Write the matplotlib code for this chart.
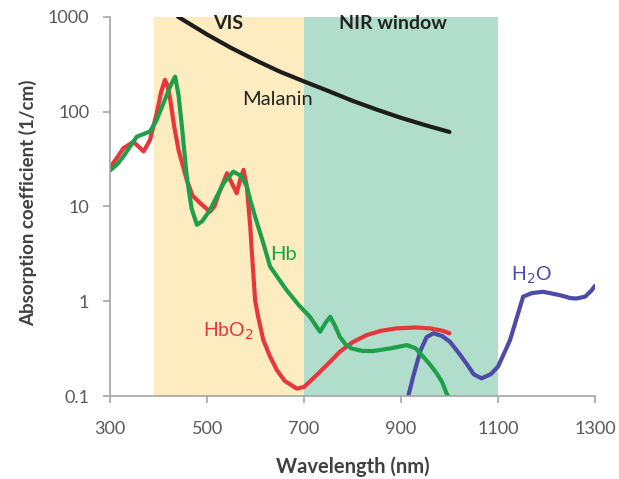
import matplotlib
matplotlib.use("Agg")
import matplotlib.pyplot as plt

plt.rcParams['font.family'] = ['Lato', 'DejaVu Sans']

# spectral bands (nm)
vis_band = [390, 700]
nir_band = [700, 1100]

# melanin
mel_wl = [440, 500, 550, 600, 650, 700, 750, 800, 850, 900, 950, 1000]
mel_mu = [1000, 650, 468, 348, 264, 208, 165, 130, 105, 86, 72, 61]

# HbO2
hbo2_wl = [300, 315, 327, 348, 358, 369, 382, 396, 405, 413, 418, 424, 432, 441, 458, 470,
           486, 506, 515, 525, 541, 550, 561, 568, 575, 582, 589, 592, 599, 605, 616, 630,
           644, 660, 685, 700, 726, 750, 774, 800, 829, 860, 891, 930, 960, 985, 1000]
hbo2_mu = [26, 33, 41, 48, 43, 38, 50, 96, 160, 216, 190, 133, 70, 39.5, 19, 13,
           10.8, 8.8, 10, 14, 22.4, 18, 13.8, 19, 24.3, 16.2, 6.1, 3.5, 1.03, 0.7, 0.39, 0.26,
           0.188, 0.145, 0.12, 0.125, 0.167, 0.22, 0.294, 0.37, 0.44, 0.49, 0.518, 0.53, 0.518, 0.49, 0.46]

# Hb
hb_wl = [300, 315, 327, 355, 382, 395, 410, 425, 434, 441, 448, 458, 468, 479, 490, 506,
         534, 554, 570, 582, 589, 600, 616, 630, 664, 690, 712, 733, 745, 754, 764, 774,
         786, 798, 820, 843, 880, 912, 930, 946, 960, 974, 985, 994, 1000]
hb_mu = [24, 28, 33.6, 54.5, 61.6, 80, 123, 190, 234, 150, 69.5, 20.6, 9.5, 6.4, 7, 9.2,
         17.6, 23.3, 21, 16.2, 11.7, 7.5, 4.09, 2.32, 1.31, 0.9, 0.687, 0.477, 0.6, 0.687, 0.55, 0.42,
         0.35, 0.318, 0.30, 0.299, 0.32, 0.345, 0.32, 0.26, 0.215, 0.173, 0.14, 0.107, 0.095]

# water
h2o_wl = [915, 925, 940, 953, 967, 985, 1001, 1018, 1035, 1050, 1066, 1085, 1100, 1115,
          1125, 1140, 1152, 1170, 1193, 1228, 1250, 1262, 1280, 1293, 1300]
h2o_mu = [0.1, 0.16, 0.3, 0.42, 0.46, 0.43, 0.374, 0.29, 0.221, 0.17, 0.154, 0.17, 0.204, 0.3,
          0.39, 0.7, 1.12, 1.22, 1.26, 1.16, 1.08, 1.07, 1.12, 1.3, 1.45]

fig = plt.figure(figsize=(6.19, 4.79), dpi=100)
ax = fig.add_axes([0.178, 0.173, 0.783, 0.792])

ax.axvspan(vis_band[0], vis_band[1], color='#fcecc0', lw=0, zorder=0)
ax.axvspan(nir_band[0], nir_band[1], color='#b1ddcc', lw=0, zorder=0)

lkw = dict(lw=3, solid_joinstyle='round', solid_capstyle='round')
ax.plot(mel_wl, mel_mu, color='#1c1c1c', **lkw)
ax.plot(h2o_wl, h2o_mu, color='#4d4aa8', **lkw)
ax.plot(hbo2_wl, hbo2_mu, color='#e8373c', **lkw)
ax.plot(hb_wl, hb_mu, color='#1ea04b', **lkw)

ax.set_yscale('log')
ax.set_xlim(300, 1300)
ax.set_ylim(0.1, 1000)
ax.set_xticks([300, 500, 700, 900, 1100, 1300])
ax.set_yticks([0.1, 1, 10, 100, 1000])
ax.set_yticklabels(['0.1', '1', '10', '100', '1000'])
ax.yaxis.set_minor_locator(matplotlib.ticker.NullLocator())

for s in ['top', 'right']:
    ax.spines[s].set_visible(False)
for s in ['left', 'bottom']:
    ax.spines[s].set_color('#a6a6a6')
    ax.spines[s].set_linewidth(1.2)
ax.tick_params(colors='#a6a6a6', labelcolor='#595959', labelsize=13, length=5, width=1.2)
ax.tick_params(axis='y', pad=10)
ax.tick_params(axis='x', pad=13)

ax.set_xlabel('Wavelength (nm)', fontsize=14.5, fontweight='bold', color='#404040')
ax.xaxis.set_label_coords(0.5, -0.16)
ax.set_ylabel('Absorption coefficient (1/cm)', fontsize=13.5, fontweight='bold', color='#404040')
ax.yaxis.set_label_coords(-0.15, 0.51)

ax.text(543, 840, 'VIS', fontsize=14, fontweight='bold', color='#222222', ha='center', va='center')
ax.text(883, 843, 'NIR window', fontsize=14, fontweight='bold', color='#222222', ha='center', va='center')
ax.text(646, 133, 'Malanin', fontsize=14.5, color='#222222', ha='center', va='center')
ax.text(657, 3.1, 'Hb', fontsize=14.5, color='#1ea04b', ha='center', va='center')
ax.text(544, 0.48, 'HbO$_2$', fontsize=14, color='#e8373c', ha='center', va='center')
ax.text(1169, 1.9, 'H$_2$O', fontsize=14, color='#4d4aa8', ha='center', va='center')

fig.savefig('out.png', dpi=100)
